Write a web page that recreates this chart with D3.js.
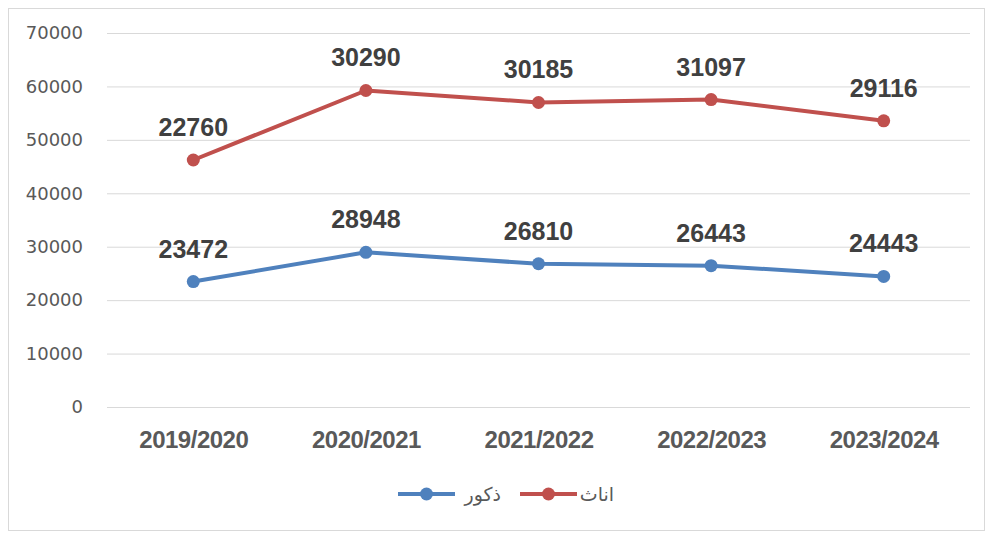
<!DOCTYPE html>
<html>
  <head>
    <meta charset="utf-8">
    <title>ذكور واناث</title>
    <script src="https://d3js.org/d3.v7.min.js"></script>
    <style>
      body { margin: 0; background: #fff; }
      svg text { font-family: "Liberation Sans", Arial, sans-serif; }
    </style>
  </head>
  <body>
    <svg id="chart" width="987" height="534"></svg>
    <script>
      // data
      const years = ["2019/2020", "2020/2021", "2021/2022", "2022/2023", "2023/2024"];
      const males = [23472, 28948, 26810, 26443, 24443];
      const females = [22760, 30290, 30185, 31097, 29116];
      const yTicks = [0, 10000, 20000, 30000, 40000, 50000, 60000, 70000];

      const svg = d3.select("#chart");
      const margin = { top: 33, right: 17, bottom: 127, left: 107 };
      const width = 987, height = 534;

      // chart border
      svg.append("rect")
        .attr("x", 8.5).attr("y", 8.5)
        .attr("width", 976).attr("height", 522)
        .attr("fill", "none").attr("stroke", "#d9d9d9");

      const x = d3.scalePoint()
        .domain(years)
        .range([margin.left, width - margin.right])
        .padding(0.5);
      const y = d3.scaleLinear()
        .domain([0, 70000])
        .range([height - margin.bottom, margin.top]);

      // gridlines
      svg.append("g")
        .selectAll("line")
        .data(yTicks)
        .join("line")
          .attr("x1", margin.left).attr("x2", width - margin.right)
          .attr("y1", d => y(d) + 0.5).attr("y2", d => y(d) + 0.5)
          .attr("stroke", "#d9d9d9").attr("stroke-width", 1);

      // y axis labels
      const yAxis = d3.axisLeft(y).tickValues(yTicks).tickFormat(d3.format("d")).tickSize(0).tickPadding(24);
      svg.append("g")
        .attr("transform", "translate(" + margin.left + ",0)")
        .call(yAxis)
        .call(g => g.select(".domain").remove())
        .selectAll("text")
          .attr("fill", "#595959")
          .style("font-family", "'DejaVu Sans', sans-serif")
          .style("font-size", "18px");

      // x axis labels
      const xAxis = d3.axisBottom(x).tickSize(0).tickPadding(0);
      svg.append("g")
        .attr("transform", "translate(0," + y(0) + ")")
        .call(xAxis)
        .call(g => g.select(".domain").remove())
        .selectAll("text")
          .attr("dy", null)
          .attr("y", 41)
          .attr("fill", "#595959")
          .style("font-weight", "bold")
          .style("font-size", "24px")
          .style("letter-spacing", "-0.5px");

      // stacked series
      const series = [
        { name: "ذكور", colour: "#4f81bd", values: males, tops: males },
        { name: "اناث", colour: "#c0504d", values: females, tops: females.map((d, i) => d + males[i]) }
      ];

      const line = d3.line()
        .x((d, i) => x(years[i]))
        .y(d => y(d));

      series.forEach(s => {
        svg.append("path")
          .datum(s.tops)
          .attr("d", line)
          .attr("fill", "none")
          .attr("stroke", s.colour)
          .attr("stroke-width", 4)
          .attr("stroke-linejoin", "round");
        svg.append("g")
          .selectAll("circle")
          .data(s.tops)
          .join("circle")
            .attr("cx", (d, i) => x(years[i]))
            .attr("cy", d => y(d))
            .attr("r", 6.5)
            .attr("fill", s.colour);
        svg.append("g")
          .selectAll("text")
          .data(s.tops)
          .join("text")
            .attr("x", (d, i) => x(years[i]))
            .attr("y", d => y(d) - 24)
            .attr("text-anchor", "middle")
            .attr("fill", "#404040")
            .style("font-weight", "bold")
            .style("font-size", "25px")
            .text((d, i) => s.values[i]);
      });

      // legend
      const legend = svg.append("g");
      const legendItems = [
        { s: series[0], x1: 398, x2: 455, tx: 501 },
        { s: series[1], x1: 520, x2: 577, tx: 614 }
      ];
      legendItems.forEach(l => {
        legend.append("line")
          .attr("x1", l.x1).attr("x2", l.x2)
          .attr("y1", 494).attr("y2", 494)
          .attr("stroke", l.s.colour).attr("stroke-width", 4);
        legend.append("circle")
          .attr("cx", (l.x1 + l.x2) / 2).attr("cy", 494)
          .attr("r", 6.5).attr("fill", l.s.colour);
        legend.append("text")
          .attr("x", l.tx).attr("y", 501)
          .attr("text-anchor", "end")
          .attr("fill", "#595959")
          .style("font-family", "'DejaVu Sans', sans-serif")
          .style("font-size", "19px")
          .text(l.s.name);
      });
    </script>
  </body>
</html>
